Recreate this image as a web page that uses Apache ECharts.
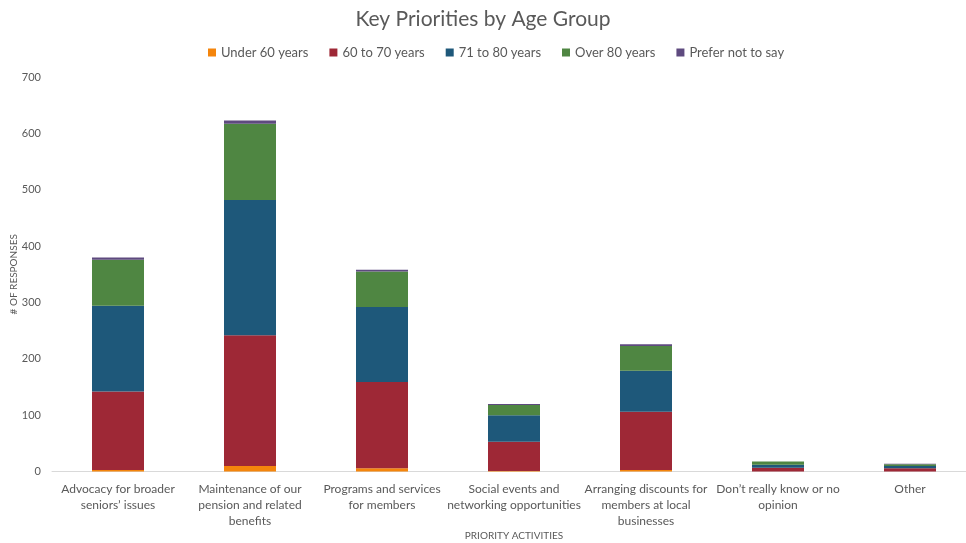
<!DOCTYPE html>
<html>
<head>
<meta charset="utf-8">
<script src="https://cdn.jsdelivr.net/npm/echarts@6/dist/echarts.min.js"></script>
<style>
  html, body { margin: 0; padding: 0; background: #fff; }
  #chart { width: 966px; height: 543px; }
</style>
</head>
<body>
<div id="chart"></div>
<script>
const categories = [
  'Advocacy for broader\nseniors’ issues',
  'Maintenance of our\npension and related\nbenefits',
  'Programs and services\nfor members',
  'Social events and\nnetworking opportunities',
  'Arranging discounts for\nmembers at local\nbusinesses',
  'Don’t really know or no\nopinion',
  'Other'
]
const under60 = [3, 10, 6, 1, 3, 0, 0]
const age60to70 = [139, 232, 153, 52, 103, 7, 6]
const age71to80 = [152, 240, 133, 47, 73, 5, 4]
const over80 = [82, 135, 63, 18, 44, 6, 3]
const preferNot = [4, 6, 3, 2, 3, 0, 1]
const yTicks = [0, 100, 200, 300, 400, 500, 600, 700]

const FONT = 'Lato'
const TXT = '#595959'

const seriesDefs = [
  { name: 'Under 60 years', data: under60, color: '#F4850C' },
  { name: '60 to 70 years', data: age60to70, color: '#9E2836' },
  { name: '71 to 80 years', data: age71to80, color: '#1E587A' },
  { name: 'Over 80 years', data: over80, color: '#4F8642' },
  { name: 'Prefer not to say', data: preferNot, color: '#5E4A7F' }
]

const chart = echarts.init(document.getElementById('chart'))
chart.setOption({
  animation: false,
  textStyle: { fontFamily: FONT },
  title: {
    text: 'Key Priorities by Age Group',
    left: 'center',
    top: 4,
    textStyle: { fontSize: 21, fontWeight: 'normal', color: TXT, fontFamily: FONT }
  },
  legend: {
    top: 41,
    left: 203,
    itemWidth: 8,
    itemHeight: 8,
    itemGap: 21,
    icon: 'rect',
    textStyle: { fontSize: 13, color: TXT, fontFamily: FONT },
    data: seriesDefs.map(s => s.name)
  },
  grid: { left: 52, top: 77, width: 924, height: 394.6, containLabel: false, outerBoundsMode: 'none' },
  xAxis: {
    type: 'category',
    data: categories,
    name: 'PRIORITY ACTIVITIES',
    nameLocation: 'middle',
    nameGap: 59,
    nameMoveOverlap: false,
    nameTextStyle: { fontSize: 10, color: TXT },
    axisLine: { lineStyle: { color: '#D9D9D9', width: 1 } },
    axisTick: { show: false },
    axisLabel: { interval: 0, fontSize: 12, color: TXT, lineHeight: 16, margin: 10 }
  },
  yAxis: {
    type: 'value',
    min: yTicks[0],
    max: yTicks[yTicks.length - 1],
    interval: 100,
    name: '# OF RESPONSES',
    nameLocation: 'middle',
    nameGap: 33,
    nameMoveOverlap: false,
    nameTextStyle: { fontSize: 10, color: TXT },
    axisLine: { show: false },
    axisTick: { show: false },
    splitLine: { show: false },
    axisLabel: { fontSize: 11, color: TXT, margin: 11 }
  },
  series: seriesDefs.map(s => ({
    name: s.name,
    type: 'bar',
    stack: 'total',
    barWidth: 52,
    data: s.data,
    itemStyle: { color: s.color }
  }))
})
</script>
</body>
</html>
